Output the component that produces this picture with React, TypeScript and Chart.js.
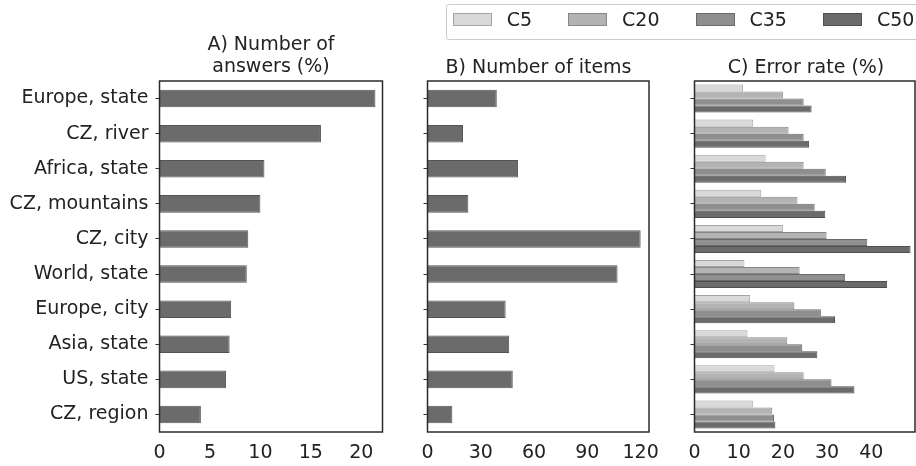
import React, { useEffect, useRef } from "react";
import { Chart, registerables } from "chart.js";

Chart.register(...registerables);

const categories = [
  "Europe, state",
  "CZ, river",
  "Africa, state",
  "CZ, mountains",
  "CZ, city",
  "World, state",
  "Europe, city",
  "Asia, state",
  "US, state",
  "CZ, region",
];
const answersPct = [21.4, 16.0, 10.4, 10.0, 8.8, 8.65, 7.1, 6.95, 6.6, 4.1];
const itemCounts = [39, 20, 51, 23, 120, 107, 44, 46, 48, 14];
const errC5 = [11.0, 13.3, 16.1, 15.1, 20.0, 11.3, 12.6, 12.0, 18.1, 13.2];
const errC20 = [20.0, 21.3, 24.7, 23.3, 29.9, 23.8, 22.6, 21.0, 24.7, 17.6];
const errC35 = [24.7, 24.7, 29.7, 27.2, 39.1, 34.1, 28.6, 24.4, 31.0, 18.0];
const errC50 = [26.5, 25.9, 34.3, 29.6, 48.9, 43.6, 31.8, 27.8, 36.2, 18.3];
const seriesNames = ["C5", "C20", "C35", "C50"];
const seriesFill = ["#d9d9d9", "#b3b3b3", "#8f8f8f", "#6b6b6b"];
const seriesEdge = ["#a5a5a5", "#888888", "#6a6a6a", "#4e4e4e"];
const panelTitles = ["A) Number of\nanswers (%)", "B) Number of items", "C) Error rate (%)"];
const ticksA = [0, 5, 10, 15, 20];
const ticksB = [0, 30, 60, 90, 120];
const ticksC = [0, 10, 20, 30, 40];

const FONT = '"DejaVu Sans", sans-serif';
const TEXT = "#222222";

const framePlugin = {
  id: "frame",
  afterDraw(chart: any) {
    const { ctx, chartArea: a } = chart;
    ctx.save();
    ctx.strokeStyle = "#2b2b2b";
    ctx.lineWidth = 1.5;
    ctx.strokeRect(a.left, a.top, a.right - a.left, a.bottom - a.top);
    ctx.restore();
  },
};

function makeOptions(max: number, tickValues: number[], yWidth: number, padRight: number, showLabels: boolean) {
  return {
    indexAxis: "y" as const,
    responsive: false,
    animation: false as const,
    layout: { padding: { top: 81, right: padRight, bottom: 0, left: 0 } },
    plugins: { legend: { display: false }, tooltip: { enabled: false }, title: { display: false } },
    scales: {
      x: {
        type: "linear" as const,
        min: 0,
        max,
        grid: { display: false, drawTicks: false },
        border: { display: false },
        ticks: {
          autoSkip: false,
          includeBounds: false,
          maxRotation: 0,
          padding: 10,
          color: TEXT,
          font: { family: FONT, size: 19 },
        },
        afterBuildTicks: (scale: any) => {
          scale.ticks = tickValues.map((v) => ({ value: v }));
        },
        afterFit: (scale: any) => {
          scale.height = 34;
          scale.paddingLeft = 0;
          scale.paddingRight = 0;
        },
      },
      y: {
        type: "category" as const,
        grid: { display: true, drawOnChartArea: false, drawTicks: true, tickLength: 4, offset: false, color: "#333333", lineWidth: 1 },
        border: { display: false },
        ticks: {
          display: showLabels,
          autoSkip: false,
          padding: 7,
          color: TEXT,
          font: { family: FONT, size: 19 },
        },
        afterFit: (scale: any) => {
          scale.width = yWidth;
        },
      },
    },
  };
}

function Panel(props: { left: number; width: number; build: () => any }) {
  const ref = useRef<HTMLCanvasElement | null>(null);
  useEffect(() => {
    if (!ref.current) return;
    const chart = new Chart(ref.current, props.build());
    return () => chart.destroy();
  }, []);
  return (
    <canvas
      ref={ref}
      width={props.width}
      height={466}
      style={{ position: "absolute", left: props.left, top: 0, width: props.width, height: 466 }}
    />
  );
}

export default function App() {
  const buildA = () => ({
    type: "bar",
    data: {
      labels: categories,
      datasets: [
        {
          data: answersPct,
          backgroundColor: "#6b6b6b",
          borderColor: "#545454",
          borderWidth: 1,
          barPercentage: 0.5,
          categoryPercentage: 1,
        },
      ],
    },
    options: makeOptions(22.1, ticksA, 159.5, 17.5, true),
    plugins: [framePlugin],
  });
  const buildB = () => ({
    type: "bar",
    data: {
      labels: categories,
      datasets: [
        {
          data: itemCounts,
          backgroundColor: "#6b6b6b",
          borderColor: "#545454",
          borderWidth: 1,
          barPercentage: 0.5,
          categoryPercentage: 1,
        },
      ],
    },
    options: makeOptions(124.7, ticksB, 27.5, 17, false),
    plugins: [framePlugin],
  });
  const errSeries = [errC5, errC20, errC35, errC50];
  const buildC = () => ({
    type: "bar",
    data: {
      labels: categories,
      datasets: errSeries.map((d, i) => ({
        label: seriesNames[i],
        data: d,
        backgroundColor: seriesFill[i],
        borderColor: seriesEdge[i],
        borderWidth: 1,
        barPercentage: 1,
        categoryPercentage: 0.8,
      })),
    },
    options: makeOptions(49.9, ticksC, 28.5, 1, false),
    plugins: [framePlugin],
  });

  const titleStyle = (center: number, top: number): React.CSSProperties => ({
    position: "absolute",
    left: center - 120,
    width: 240,
    top,
    textAlign: "center",
    fontFamily: FONT,
    fontSize: 19,
    lineHeight: "22px",
    color: TEXT,
    whiteSpace: "pre-line",
  });

  return (
    <div
      style={{
        position: "fixed",
        left: 0,
        top: 0,
        width: 916,
        height: 466,
        overflow: "hidden",
        background: "#ffffff",
      }}
    >
      <Panel left={0} width={400} build={buildA} />
      <Panel left={400} width={266} build={buildB} />
      <Panel left={666} width={250} build={buildC} />
      <div style={titleStyle(271, 32)}>{panelTitles[0]}</div>
      <div style={titleStyle(538.5, 55)}>{panelTitles[1]}</div>
      <div style={titleStyle(806, 55)}>{panelTitles[2]}</div>
      <div
        style={{
          position: "absolute",
          left: 445.5,
          top: 3.5,
          width: 500,
          height: 34.5,
          border: "1px solid #cccccc",
          borderRadius: 3,
          background: "#ffffff",
        }}
      />
      <div
        style={{
          position: "absolute",
          left: 452.7,
          top: 8.3,
          height: 22,
          display: "flex",
          alignItems: "center",
          fontFamily: FONT,
          fontSize: 19,
          lineHeight: "22px",
          color: TEXT,
          whiteSpace: "nowrap",
        }}
      >
        {seriesNames.map((n, i) => (
          <div key={n} style={{ display: "flex", alignItems: "center", marginLeft: i === 0 ? 0 : 36 }}>
            <span
              style={{
                display: "inline-block",
                boxSizing: "border-box",
                width: 39,
                height: 13.5,
                background: seriesFill[i],
                border: `1px solid ${seriesEdge[i]}`,
                marginRight: 15,
              }}
            />
            <span>{n}</span>
          </div>
        ))}
      </div>
    </div>
  );
}
